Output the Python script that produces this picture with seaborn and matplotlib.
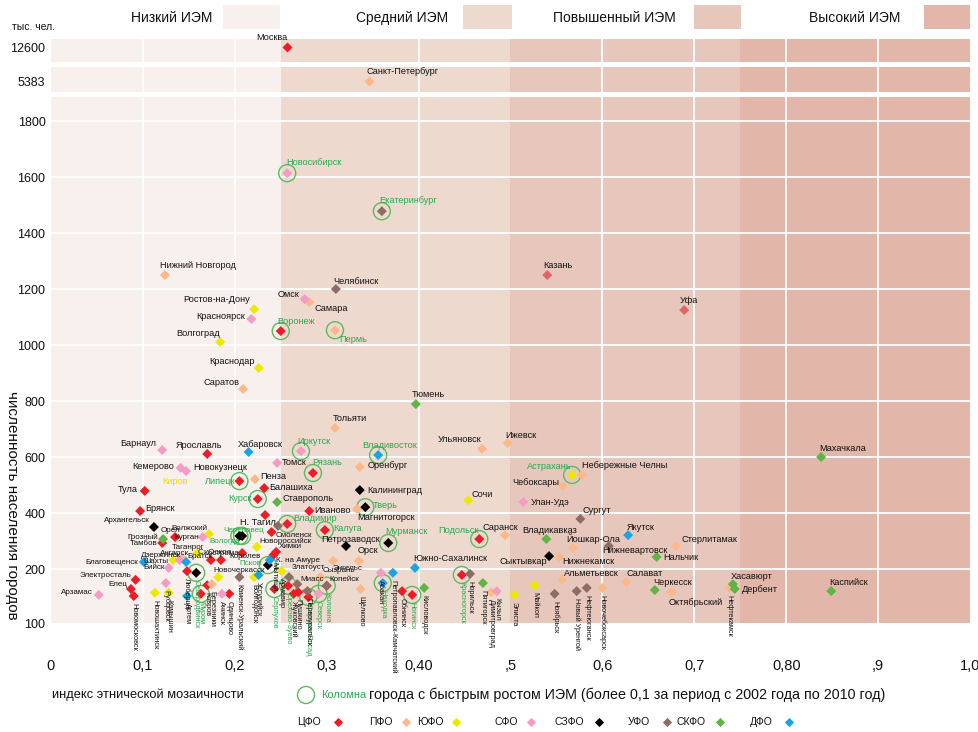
import numpy as np
import pandas as pd
import matplotlib
matplotlib.use('Agg')
import matplotlib.pyplot as plt
import seaborn as sns

sns.set_theme(style='white')
plt.rcParams['font.family'] = ['Liberation Sans', 'DejaVu Sans']

# ------------------------------------------------------------------ data
ZONE_EDGES = [0.0, 0.25, 0.5, 0.75, 1.0]
ZONE_NAMES = ['Низкий ИЭМ', 'Средний ИЭМ', 'Повышенный ИЭМ', 'Высокий ИЭМ']
OKRUGS = ['ЦФО', 'ПФО', 'ЮФО', 'СФО', 'СЗФО', 'УФО', 'СКФО', 'ДФО']
X_TICKS = [0, 0.1, 0.2, 0.3, 0.4, 0.5, 0.6, 0.7, 0.8, 0.9, 1.0]
X_TICK_LABELS = ['0', '0,1', '0,2', '0,3', '0,40', ',5', '0,6', '0,7', '0,80', ',9', '1,0']
X_GRID = [0.1, 0.2, 0.4, 0.6, 0.7, 0.8, 0.9]
Y_TICKS = [100, 200, 400, 600, 800, 1000, 1200, 1400, 1600, 1800]

TOP_CITIES = ['Москва', 'Санкт-Петербург']
TOP_IEM = [0.257, 0.346]
TOP_POP = [12600, 5383]
TOP_OKRUG = ['ЦФО', 'ПФО']

CFO_CITIES = ['Воронеж', 'Подольск', 'Красногорск', 'Ногинск', 'Обнинск', 'Рязань', 'Балашиха',
              'Иваново', 'Владимир', 'Калуга', 'Коломна', 'Сергиев Посад', 'Серпухов',
              'Орехово-Зуево', 'Жуковский', 'Пушкино', 'Ярославль', 'Тула', 'Липецк', 'Курск',
              'Брянск', 'Белгород', 'Смоленск', 'Химки', 'Мытищи', 'Орел', 'Тамбов', 'Кострома',
              'С. Оскол', 'Королев', 'Электросталь', 'Елец', 'Новомосковск', 'Люберцы', 'Муром',
              'Ковров', 'Одинцово']
CFO_IEM = [0.250, 0.466, 0.447, 0.393, 0.382, 0.285, 0.232,
           0.281, 0.257, 0.298, 0.300, 0.280, 0.243,
           0.258, 0.264, 0.269, 0.170, 0.102, 0.205, 0.225,
           0.097, 0.233, 0.240, 0.245, 0.242, 0.135, 0.121, 0.208,
           0.174, 0.185, 0.092, 0.087, 0.090, 0.148, 0.163,
           0.170, 0.194]
CFO_POP = [1050, 307, 189, 152, 159, 543, 489,
           407, 361, 339, 169, 148, 163,
           169, 154, 157, 611, 479, 514, 450,
           407, 393, 332, 261, 250, 314, 293, 257,
           232, 232, 180, 163, 150, 196, 154,
           170, 154]

PFO_CITIES = ['Нижний Новгород', 'Самара', 'Пермь', 'Саратов', 'Тольяти', 'Нефтекамск',
              'Стерлитамак', 'Октябрьский', 'Салават', 'Альметьевск', 'Новочебоксарск',
              'Нижнекамск', 'Йошкар-Ола', 'Саранск', 'Чебоксары', 'Небережные Челны',
              'Ульяновск', 'Ижевск', 'Димитровград', 'Оренбург', 'Пенза', 'Магнитогорск',
              'Орск', 'Энгельс', 'Сызрань', 'Щёлково', 'Дзержинск', 'Березники',
              'Казань', 'Уфа']
PFO_IEM = [0.124, 0.281, 0.309, 0.209, 0.309, 0.738,
           0.680, 0.675, 0.626, 0.556, 0.600,
           0.553, 0.568, 0.494, 0.557, 0.578,
           0.469, 0.497, 0.479, 0.336, 0.222, 0.333,
           0.335, 0.307, 0.293, 0.337, 0.143, 0.175,
           0.540, 0.689]
PFO_POP = [1250, 1153, 1053, 843, 704, 165,
           282, 157, 176, 180, 165,
           243, 275, 321, 496, 536,
           629, 650, 157, 564, 521, 414,
           229, 229, 185, 163, 239, 172,
           1250, 1125]

UFO_S_CITIES = ['Ростов-на-Дону', 'Волгоград', 'Краснодар', 'Майкоп', 'Элиста', 'Сочи',
                'Астрахань', 'Новороссийск', 'Армавир', 'Волжский', 'Таганрог', 'Шахты',
                'Новошахтинск', 'Камышин', 'Новочеркасск', 'Волгодонск']
UFO_S_IEM = [0.221, 0.184, 0.226, 0.526, 0.504, 0.454,
             0.567, 0.224, 0.251, 0.172, 0.159, 0.133,
             0.113, 0.128, 0.182, 0.221]
UFO_S_POP = [1128, 1011, 918, 170, 152, 446,
             536, 279, 196, 325, 257, 232,
             156, 156, 185, 185]

SFO_CITIES = ['Новосибирск', 'Омск', 'Красноярск', 'Улан-Удэ', 'Кызыл', 'Иркутск', 'Томск',
              'Северск', 'Абакан', 'Барнаул', 'Кемерово', 'Новокузнецк', 'Курган', 'Ангарск',
              'Бийск', 'Арзамас', 'Рубцовск', 'Ачинск']
SFO_IEM = [0.257, 0.276, 0.218, 0.514, 0.485, 0.272, 0.246,
           0.291, 0.359, 0.121, 0.141, 0.147, 0.165, 0.140,
           0.128, 0.052, 0.125, 0.186]
SFO_POP = [1614, 1164, 1093, 439, 159, 621, 579,
           154, 193, 625, 561, 550, 314, 232,
           204, 152, 174, 154]

SZFO_CITIES = ['Сыктывкар', 'Калининград', 'Тверь', 'Петрозаводск', 'Мурманск', 'Череповец',
               'Вологда', 'Псков', 'Архангельск', 'Северодвинск']
SZFO_IEM = [0.542, 0.336, 0.342, 0.321, 0.367, 0.205, 0.208, 0.236, 0.112, 0.158]
SZFO_POP = [246, 482, 421, 282, 293, 318, 318, 214, 350, 193]

URFO_CITIES = ['Екатеринбург', 'Челябинск', 'Нижневартовск', 'Нефтеюганск', 'Новый Уренгой',
               'Ноябрьск', 'Сургут', 'Норильск', 'Копейск', 'Златоуст', 'Миасс', 'Н. Тагил',
               'Каменск-Уральский', 'Первоуральск']
URFO_IEM = [0.360, 0.310, 0.607, 0.583, 0.572, 0.548, 0.576, 0.456, 0.300, 0.259, 0.268,
            0.247, 0.205, 0.279]
URFO_POP = [1478, 1200, 282, 165, 159, 154, 379, 191, 169, 185, 172, 354, 185, 159]

SKFO_CITIES = ['Тюмень', 'Махачкала', 'Каспийск', 'Хасавюрт', 'Дербент', 'Нальчик',
               'Черкесск', 'Владикавказ', 'Пятигорск', 'Кисловодск', 'Ставрополь', 'Грозный']
SKFO_IEM = [0.397, 0.838, 0.849, 0.742, 0.744, 0.659, 0.657, 0.539, 0.470, 0.406, 0.246, 0.122]
SKFO_POP = [789, 600, 159, 172, 163, 243, 161, 307, 174, 165, 439, 307]

DFO_CITIES = ['Якутск', 'Южно-Сахалинск', 'Владивосток', 'Находка', 'Петропавловск-Камчатский',
              'Хабаровск', 'К. на Амуре', 'Братск', 'Благовещенск', 'Артем', 'Уссурийск']
DFO_IEM = [0.628, 0.396, 0.356, 0.361, 0.372, 0.215, 0.238, 0.147, 0.101, 0.148, 0.226]
DFO_POP = [321, 204, 607, 174, 193, 618, 232, 225, 225, 150, 189]

FAST_GROWTH = ['Новосибирск', 'Екатеринбург', 'Воронеж', 'Пермь', 'Подольск',
               'Астрахань', 'Красногорск', 'Ногинск', 'Иркутск', 'Владивосток', 'Рязань',
               'Тверь', 'Владимир', 'Калуга', 'Мурманск', 'Коломна', 'Северск',
               'Сергиев Посад', 'Серпухов', 'Находка', 'Липецк', 'Курск', 'Череповец',
               'Вологда', 'Псков', 'Северодвинск', 'Муром', 'Орехово-Зуево']
ACCENT = ['Казань', 'Уфа']

# ------------------------------------------------------------------ styles
ZONE_COLORS = ['#f8f0ec', '#eed9cf', '#e7c7bb', '#e2b6a9']
PALETTE = {'ЦФО': '#ee1c25', 'ПФО': '#fdb889', 'ЮФО': '#ece800', 'СФО': '#f59bc4',
           'СЗФО': '#000000', 'УФО': '#8c6d63', 'СКФО': '#5db544', 'ДФО': '#1aa3e6',
           'акцент': '#e2646a'}
GREEN = '#5cbb5f'
GREEN_TXT = '#2aa84f'
NARROW = ['Liberation Sans Narrow', 'Liberation Sans', 'DejaVu Sans']

# label placement: (ha, dx_px, dy_px) or 'v' for vertical text below the mark
V = 'v'
LAYOUT = {
    'Москва': ('right', 0, 9), 'Санкт-Петербург': ('left', -2, 10),
    'Новосибирск': ('left', -1, 11), 'Екатеринбург': ('left', -3, 11),
    'Нижний Новгород': ('left', -5, 10), 'Челябинск': ('left', -3, 8),
    'Омск': ('right', -5, 5), 'Самара': ('left', 5, -6), 'Ростов-на-Дону': ('right', -4, 10),
    'Красноярск': ('right', -6, 3), 'Воронеж': ('left', -3, 10), 'Пермь': ('left', 4, -9),
    'Волгоград': ('right', 0, 8), 'Краснодар': ('right', -4, 6), 'Саратов': ('right', -4, 6),
    'Тюмень': ('left', -4, 10), 'Тольяти': ('left', -2, 9), 'Казань': ('left', -4, 10),
    'Уфа': ('left', -4, 10), 'Махачкала': ('left', -2, 9), 'Каспийск': ('left', -2, 9),
    'Хасавюрт': ('left', -2, 8), 'Дербент': ('left', 7, -1), 'Нефтекамск': V,
    'Якутск': ('left', -2, 8), 'Стерлитамак': ('left', 6, 7), 'Нальчик': ('left', 7, -1),
    'Нижневартовск': ('left', -7, -4), 'Черкесск': ('left', -2, 8),
    'Октябрьский': ('left', -3, -10), 'Салават': ('left', 0, 8), 'Альметьевск': ('left', 2, 6),
    'Новочебоксарск': V, 'Нефтеюганск': V, 'Новый Уренгой': V, 'Ноябрьск': V, 'Майкоп': V,
    'Элиста': V, 'Сыктывкар': ('right', -2, -5), 'Нижнекамск': ('left', 3, -5),
    'Йошкар-Ола': ('left', -7, 9), 'Владикавказ': ('center', 3, 9), 'Сургут': ('left', 2, 8),
    'Саранск': ('center', -5, 8), 'Подольск': ('right', -1, 9), 'Улан-Удэ': ('left', 7, 0),
    'Сочи': ('left', 3, 6), 'Чебоксары': ('right', -4, 4), 'Астрахань': ('right', -1, 8),
    'Небережные Челны': ('left', 0, 9), 'Ульяновск': ('right', -1, 9), 'Ижевск': ('left', -2, 8),
    'Южно-Сахалинск': ('left', -2, 9), 'Норильск': V, 'Красногорск': V, 'Пятигорск': V,
    'Димитровград': V, 'Кызыл': V, 'Кисловодск': V, 'Ногинск': V, 'Обнинск': V,
    'Иркутск': ('left', -4, 10), 'Владивосток': ('left', -16, 10), 'Томск': ('left', 5, 0),
    'Рязань': ('left', -1, 10), 'Оренбург': ('left', 8, 2), 'Пенза': ('left', 5, 3),
    'Балашиха': ('left', 5, 1), 'Калининград': ('left', 7, 0), 'Ставрополь': ('left', 5, 4),
    'Тверь': ('left', 7, 2), 'Магнитогорск': ('left', 0, -8), 'Иваново': ('left', 5, 1),
    'Владимир': ('left', 6, 5), 'Калуга': ('left', 8, 2), 'Петрозаводск': ('center', 5, 7),
    'Мурманск': ('left', -3, 11), 'Орск': ('left', -1, 10), 'Энгельс': ('left', -1, -8),
    'Сызрань': ('left', 2, 7), 'Коломна': V, 'Копейск': ('left', 3, 6), 'Армавир': V,
    'Златоуст': ('left', 3, 10), 'Миасс': ('left', 3, 5), 'Северск': V, 'Сергиев Посад': V,
    'Серпухов': V, 'Щёлково': V, 'Абакан': V, 'Находка': V, 'Петропавловск-Камчатский': V,
    'Барнаул': ('right', -6, 7), 'Ярославль': ('center', -8, 8), 'Хабаровск': ('left', -11, 7),
    'Кемерово': ('right', -6, 1), 'Новокузнецк': ('left', 7, 4), 'Тула': ('right', -7, 1),
    'Липецк': ('right', -4, 0), 'Курск': ('right', -6, 1), 'Брянск': ('left', 5, 3),
    'Н. Тагил': ('right', -2, 3), 'Череповец': ('center', 4, 5), 'Вологда': ('right', -2, -6),
    'Смоленск': ('left', 4, -3), 'Новороссийск': ('left', 3, 6), 'Химки': ('left', 3, 5),
    'Мытищи': V, 'Псков': ('right', -6, 2), 'К. на Амуре': ('left', 6, 0),
    'Архангельск': ('right', -4, 7), 'Орел': ('center', -5, 7), 'Грозный': ('right', -5, 2),
    'Тамбов': ('right', -5, -1), 'Волжский': ('right', -2, 6), 'Чита': ('center', 5, 7),
    'Курган': ('right', -4, 0), 'Таганрог': ('right', 7, 6), 'Кострома': ('right', -3, 0),
    'С. Оскол': ('center', 4, 8), 'Королев': ('left', 8, 4), 'Ангарск': ('center', -5, 7),
    'Братск': ('left', 1, 6), 'Дзержинск': ('right', -2, 3), 'Шахты': ('right', -5, -1),
    'Благовещенск': ('right', -6, 0), 'Бийск': ('right', -4, 0), 'Электросталь': ('right', -4, 4),
    'Елец': ('right', -4, 4), 'Новомосковск': V, 'Арзамас': ('right', -6, 2), 'Рубцовск': V,
    'Новошахтинск': V, 'Камышин': V, 'Артем': V, 'Люберцы': V, 'Северодвинск': V, 'Муром': V,
    'Новочеркасск': ('left', -5, 7), 'Каменск-Уральский': V, 'Волгодонск': V, 'Уссурийск': V,
    'Березники': V, 'Ачинск': V, 'Орехово-Зуево': V, 'Жуковский': V, 'Пушкино': V,
    'Первоуральск': V, 'Ковров': V, 'Одинцово': V,
}
SMALL = {'Архангельск', 'Грозный', 'Тамбов', 'Волжский', 'Курган', 'Таганрог', 'Кострома',
         'С. Оскол', 'Королев', 'Ангарск', 'Братск', 'Дзержинск', 'Шахты', 'Бийск',
         'Благовещенск', 'Электросталь', 'Елец', 'Арзамас', 'Чита', 'Орел', 'Смоленск',
         'Новороссийск', 'Химки', 'Череповец', 'Вологда', 'Псков', 'К. на Амуре', 'Энгельс',
         'Сызрань', 'Копейск', 'Златоуст', 'Миасс', 'Новочеркасск'}

# ------------------------------------------------------------------ frames
def block(cities, iem, pop, okrug):
    return pd.DataFrame({'city': cities, 'iem': iem, 'pop': pop, 'okrug': okrug})

df = pd.concat([
    block(CFO_CITIES, CFO_IEM, CFO_POP, 'ЦФО'),
    block(PFO_CITIES, PFO_IEM, PFO_POP, 'ПФО'),
    block(UFO_S_CITIES, UFO_S_IEM, UFO_S_POP, 'ЮФО'),
    block(SFO_CITIES, SFO_IEM, SFO_POP, 'СФО'),
    block(SZFO_CITIES, SZFO_IEM, SZFO_POP, 'СЗФО'),
    block(URFO_CITIES, URFO_IEM, URFO_POP, 'УФО'),
    block(SKFO_CITIES, SKFO_IEM, SKFO_POP, 'СКФО'),
    block(DFO_CITIES, DFO_IEM, DFO_POP, 'ДФО'),
], ignore_index=True)
top = pd.DataFrame({'city': TOP_CITIES, 'iem': TOP_IEM, 'pop': TOP_POP, 'okrug': TOP_OKRUG})
for d in (df, top):
    d['group'] = np.where(d['city'].isin(ACCENT), 'акцент', d['okrug'])
    d['fast'] = d['city'].isin(FAST_GROWTH)


def fwd(v):
    v = np.asarray(v, dtype=float)
    return np.where(v < 200, (v - 100) * 0.54, 54 + (v - 200) * 0.28)


def inv(p):
    p = np.asarray(p, dtype=float)
    return np.where(p < 54, 100 + p / 0.54, 200 + (p - 54) / 0.28)


# ------------------------------------------------------------------ figure
W, H = 979, 732
fig = plt.figure(figsize=(W / 100, H / 100), dpi=100)
L, AW = 51 / W, 919 / W
ax = fig.add_axes([L, (H - 623) / H, AW, 526 / H])
ax_b2 = fig.add_axes([L, (H - 92) / H, AW, 25 / H])
ax_b1 = fig.add_axes([L, (H - 62) / H, AW, 23 / H])

ax.set_yscale('function', functions=(fwd, inv))
ax.set_ylim(100, 1886)
ax_b1.set_ylim(TOP_POP[0] - 15, TOP_POP[0] + 8)
ax_b2.set_ylim(TOP_POP[1] - 11, TOP_POP[1] + 14)

for a in (ax, ax_b1, ax_b2):
    a.set_xlim(0, 1)
    for s in a.spines.values():
        s.set_visible(False)
    for i in range(4):
        a.axvspan(ZONE_EDGES[i], ZONE_EDGES[i + 1], color=ZONE_COLORS[i], lw=0, zorder=0)
    for xv in X_GRID:
        a.axvline(xv, color='white', lw=1.3, zorder=1)
    a.tick_params(axis='both', length=0, labelsize=9, labelcolor='#111111', pad=4)

for yv in Y_TICKS[1:]:
    ax.axhline(yv, color='white', lw=1.3, zorder=1)
ax.set_yticks(Y_TICKS)
ax.set_yticklabels([str(t) for t in Y_TICKS])
ax.set_xticks(X_TICKS)
ax.set_xticklabels(X_TICK_LABELS, fontsize=10.5, family=NARROW)
ax.tick_params(axis='x', pad=26)
ax_b1.set_yticks([TOP_POP[0]]); ax_b1.set_yticklabels([str(TOP_POP[0])]); ax_b1.set_xticks([])
ax_b2.set_yticks([TOP_POP[1]]); ax_b2.set_yticklabels([str(TOP_POP[1])]); ax_b2.set_xticks([])

# rings around fast-growing cities
f = df[df['fast']]
ax.scatter(f['iem'], f['pop'], s=150, facecolors='none', edgecolors=GREEN, linewidths=1.0, zorder=3)

# marks
sns.scatterplot(data=df, x='iem', y='pop', hue='group', palette=PALETTE, marker='D', s=26,
                linewidth=0, legend=False, ax=ax, zorder=4)
sns.scatterplot(data=top.iloc[[0]], x='iem', y='pop', hue='group', palette=PALETTE, marker='D',
                s=26, linewidth=0, legend=False, ax=ax_b1, zorder=4)
sns.scatterplot(data=top.iloc[[1]], x='iem', y='pop', hue='group', palette=PALETTE, marker='D',
                s=26, linewidth=0, legend=False, ax=ax_b2, zorder=4)
for a in (ax, ax_b1, ax_b2):
    a.set_xlabel(''); a.set_ylabel('')


def label(a, r):
    spec = LAYOUT.get(r.city)
    if spec is None:
        return
    col = GREEN_TXT if r.fast else '#111111'
    if spec == V:
        a.annotate(r.city, (r.iem, r.pop), xytext=(0, -7), textcoords='offset pixels',
                   rotation=270, ha='center', va='top', fontsize=5.3, color=col,
                   annotation_clip=False, zorder=6)
    else:
        ha, dx, dy = spec
        fs = 5.8 if r.city in SMALL else 6.6
        a.annotate(r.city, (r.iem, r.pop), xytext=(dx, dy), textcoords='offset pixels',
                   ha=ha, va='center', fontsize=fs, color=col, annotation_clip=False, zorder=6)


for r in df.itertuples():
    label(ax, r)
label(ax_b1, next(top.iloc[[0]].itertuples()))
label(ax_b2, next(top.iloc[[1]].itertuples()))
# Kirov: label without a visible mark
ax.annotate('Киров', (0.135, 514), ha='center', va='center', fontsize=6.6, color='#e6dc00')

# ------------------------------------------------------------------ overlay texts
ov = fig.add_axes([0, 0, 1, 1], zorder=10)
ov.set_xlim(0, W); ov.set_ylim(H, 0); ov.axis('off'); ov.patch.set_alpha(0)

HEAD_TEXT_X = [172, 402, 614, 855]
HEAD_BOX_X = [(223, 280), (463, 512), (694, 741), (924, 970)]
for name, tx, (b0, b1), c in zip(ZONE_NAMES, HEAD_TEXT_X, HEAD_BOX_X, ZONE_COLORS):
    ov.text(tx, 18, name, ha='center', va='center', fontsize=10, color='#111111')
    ov.add_patch(plt.Rectangle((b0, 5), b1 - b0, 24, color=c, lw=0))

ov.text(12, 27, 'тыс. чел.', ha='left', va='center', fontsize=7.5, color='#111111')
ov.text(12, 505, 'численность населения городов', rotation=270, ha='center', va='center',
        fontsize=11, color='#111111')
ov.text(52, 695, 'индекс этнической мозаичности', ha='left', va='center', fontsize=9.3,
        family=NARROW, color='#111111')
ov.scatter([306], [695], s=150, facecolors='none', edgecolors=GREEN, linewidths=1.0)
ov.text(321, 695, 'Коломна', ha='left', va='center', fontsize=8, family=NARROW, color=GREEN_TXT)
ov.text(369, 695, 'города с быстрым ростом ИЭМ (более 0,1 за период с 2002 года по 2010 год)',
        ha='left', va='center', fontsize=10.3, family=NARROW, color='#111111')

LEG_TEXT_X = [297, 369, 417, 495, 555, 628, 677, 750]
LEG_KEY_X = [338, 406, 456, 531, 599, 667, 720, 789]
for ok, tx, kx in zip(OKRUGS, LEG_TEXT_X, LEG_KEY_X):
    ov.text(tx, 722, ok, ha='left', va='center', fontsize=7.5, family=NARROW, color='#111111')
    ov.scatter([kx], [722], marker='D', s=22, color=PALETTE[ok], linewidths=0)

fig.savefig('out.png', dpi=100)
